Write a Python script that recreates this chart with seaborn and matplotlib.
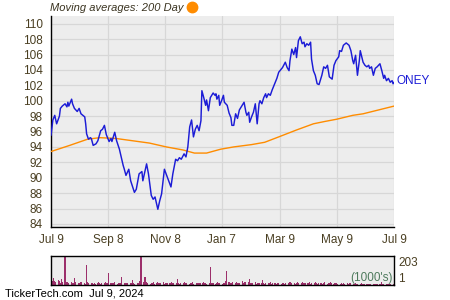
import numpy as np
import pandas as pd
import matplotlib
matplotlib.use("Agg")
import matplotlib.pyplot as plt
import seaborn as sns

# ---------------- data ----------------
start = "2023-07-09"
ticker = "ONEY"

price_days = [0, 2, 4, 6, 9, 10, 12, 15, 17, 18, 19, 22, 23, 25, 28, 30, 32, 36, 37, 38,
              40, 42, 43, 45, 48, 50, 53, 55, 57, 59, 62, 64, 65, 68, 70, 73,
              77, 78, 80, 83, 85, 89, 91, 94, 97, 98, 102, 104, 107, 109, 111, 114, 116, 118,
              121, 125, 128, 130, 133, 135, 137, 139, 142,
              144, 146, 148, 150, 152, 154, 156, 158, 160, 161, 163, 165, 166, 168, 170, 173,
              175, 176, 177, 179, 180, 182, 184, 185, 188, 190, 192, 193, 195, 197, 199, 201,
              203, 206, 208, 209, 211, 212,
              214, 216, 218, 220, 222, 223, 225, 227, 229, 230, 232, 234, 236, 238, 239, 241,
              243, 247, 250, 252, 254, 255, 257, 259, 261, 262, 264, 266, 268, 270, 271, 273,
              275, 277, 278, 280, 282, 284, 286,
              289, 291, 293, 295, 297, 300, 302, 304, 307, 308, 310, 312, 314, 315, 318, 320,
              322, 323, 325, 327, 329, 330, 333, 335, 337, 339, 340, 342, 344, 346, 348, 351,
              353, 355, 356, 358, 360, 362, 364, 365, 366]
price_vals = [95.5, 97.5, 98.1, 97.0, 98.0, 99.0, 99.3, 99.6, 99.2, 99.8, 99.3, 100.2, 99.6, 99.0,
              98.6, 99.0, 98.3, 97.9, 97.0, 95.7, 95.0, 95.2, 95.1, 94.2, 94.4, 94.8, 96.1, 96.3,
              96.8, 95.6, 94.7, 95.1, 94.7, 95.9, 94.8, 93.7,
              91.6, 91.2, 90.3, 91.1, 89.6, 88.1, 88.5, 90.5, 90.8, 89.6, 91.8, 90.5, 87.7, 87.2,
              87.5, 85.9, 87.0, 87.9, 91.1, 89.8, 88.8, 90.5, 92.4, 92.2, 92.6, 92.4, 93.1,
              92.7, 94.0, 96.6, 97.5, 95.3, 96.3, 96.8, 96.1, 97.4, 101.3, 100.4, 99.4, 100.1,
              98.7, 100.4, 101.0, 100.7, 100.9, 100.2, 100.7, 99.4, 100.0, 100.7, 99.8, 99.4,
              98.4, 97.8, 96.8, 96.8, 98.3, 97.7, 98.8, 99.2, 99.8, 98.5, 98.1, 98.5, 97.2,
              97.9, 98.5, 99.6, 97.0, 99.6, 100.0, 99.6, 100.4, 100.9, 100.4, 100.9, 100.7, 101.4,
              102.0, 102.3, 102.9, 103.7, 104.3, 105.0, 104.3, 103.9, 105.2, 106.7, 106.0, 106.9,
              105.6, 107.8, 108.3, 107.4, 107.6, 107.0, 107.4, 107.2, 107.6, 105.4, 103.9, 103.3,
              102.2, 102.1,
              103.3, 104.4, 104.2, 104.6, 103.1, 102.8, 104.6, 105.2, 105.7, 106.5, 106.4, 107.2,
              107.4, 107.5, 107.2, 106.5, 105.2, 104.8, 105.9, 103.3, 105.2, 106.5, 105.0, 104.6,
              104.4, 104.6, 104.2, 104.4, 103.3, 104.2, 104.4, 104.8, 103.9, 102.9, 103.3, 102.6,
              102.9, 102.4, 102.6, 102.2, 102.4]

ma_days = [0, 20, 39, 52, 69, 87, 105, 123, 141, 153, 166, 181, 195, 214, 228, 243, 262,
           280, 292, 305, 322, 333, 366]
ma_vals = [93.4, 94.2, 95.0, 95.2, 95.1, 94.8, 94.5, 94.0, 93.6, 93.2, 93.2, 93.7, 94.0,
           94.3, 94.6, 95.3, 96.2, 97.0, 97.3, 97.6, 98.1, 98.3, 99.3]

# daily volume (1000's), one value per business day from 2023-07-10
vol_vals = [22, 30, 47, 28, 20, 34, 25, 16, 42, 24,
            203, 19, 15, 22, 13, 18, 12, 16, 52, 20,
            15, 10, 13, 18, 11, 15, 10, 137, 19, 13,
            11, 16, 10, 15, 8, 13, 18, 11, 10, 15,
            13, 19, 11, 16, 85, 15, 10, 13, 11, 18,
            10, 15, 13, 11, 58, 16, 10, 13, 8, 15,
            11, 16, 35, 13, 10, 15, 11, 19, 28, 203,
            22, 58, 55, 19, 13, 10, 15, 11, 18, 10,
            13, 22, 16, 11, 15, 19, 10, 13, 16, 11,
            15, 10, 18, 13, 11, 16, 42, 15, 10, 13,
            11, 18, 10, 15, 13, 8, 16, 11, 19, 10,
            13, 15, 11, 10, 16, 13, 22, 11, 15, 10,
            13, 125, 16, 11, 15, 10, 13, 18, 11, 15,
            10, 16, 13, 30, 95, 19, 13, 16, 11, 24,
            15, 19, 11, 16, 13, 30, 15, 10, 18, 13,
            22, 42, 16, 11, 15, 19, 10, 13, 16, 11,
            15, 35, 13, 10, 16, 11, 15, 19, 10, 13,
            11, 16, 10, 15, 13, 8, 11, 16, 10, 13,
            15, 10, 19, 11, 13, 16, 10, 15, 22, 11,
            13, 18, 10, 15, 11, 16, 13, 21, 10, 15,
            11, 19, 13, 10, 16, 11, 15, 10, 13, 18,
            10, 15, 11, 24, 13, 10, 16, 11, 15, 10,
            8, 13, 10, 11, 8, 15, 10, 7, 11, 8,
            10, 7, 13, 8, 10, 7, 11, 8, 5, 10,
            7, 8, 5, 10, 7, 5, 8, 7, 5, 7,
            5, 7, 20, 5, 7, 5, 8, 5, 7, 5,
            7, 5]

xtick_dates = ["2023-07-09", "2023-09-08", "2023-11-08", "2024-01-07",
               "2024-03-09", "2024-05-09", "2024-07-09"]
xtick_labels = ["Jul 9", "Sep 8", "Nov 8", "Jan 7", "Mar 9", "May 9", "Jul 9"]
xminor_dates = ["2023-08-08", "2023-10-08", "2023-12-08", "2024-02-07",
                "2024-04-09", "2024-06-09"]
yticks = list(range(84, 111, 2))
yminor = list(range(84, 111, 1))
vol_labels = ["203", "1"]

# ---------------- figure ----------------
sns.set_style("white")
plt.rcParams["font.family"] = ["Liberation Sans", "DejaVu Sans"]

W, H = 450, 300
fig = plt.figure(figsize=(W / 100, H / 100), dpi=100)
ax = fig.add_axes([51 / W, 73 / H, 343 / W, 211 / H])
vax = fig.add_axes([51 / W, 15 / H, 343 / W, 29 / H])

t0 = pd.Timestamp(start)
def to_day(s):
    return (pd.Timestamp(s) - t0).days

bg = "#EDEDED"
grid_c = "#D7D7D7"
lab_c = "#4A3F22"

ax.set_facecolor(bg)
price_df = pd.DataFrame({"day": price_days, "price": price_vals})
ma_df = pd.DataFrame({"day": ma_days, "ma": ma_vals})
sns.lineplot(data=ma_df, x="day", y="ma", ax=ax, color="#FF8C00", lw=1.0, zorder=3)
sns.lineplot(data=price_df, x="day", y="price", ax=ax, color="#1C1CD6", lw=1.05, zorder=4)

ax.set_xlim(0, 366)
ax.set_ylim(83.6, 111.0)
ax.set_xticks([to_day(d) for d in xtick_dates])
ax.set_xticklabels(xtick_labels)
ax.set_xticks([to_day(d) for d in xminor_dates], minor=True)
ax.set_yticks(yticks)
ax.set_yticks(yminor, minor=True)
ax.grid(True, which="major", color=grid_c, lw=0.9)
ax.set_axisbelow(True)
ax.tick_params(axis="both", which="both", direction="in", colors="black",
               labelcolor=lab_c, labelsize=8.5, width=0.8)
ax.tick_params(axis="y", which="major", length=3, pad=6)
ax.tick_params(axis="y", which="minor", length=3)
ax.tick_params(axis="x", which="major", length=5, pad=5)
ax.tick_params(axis="x", which="minor", length=3)
ax.set_xlabel("")
ax.set_ylabel("")
for s in ["top", "right"]:
    ax.spines[s].set_visible(False)
for s in ["left", "bottom"]:
    ax.spines[s].set_color("black")
    ax.spines[s].set_linewidth(1.0)

ax.text(1.008, (102.5 - 83.6) / (111.0 - 83.6), ticker, transform=ax.transAxes,
        color="#1C1CD6", fontsize=8.5, va="center", ha="left")

fig.text(50 / W, 1 - 8 / H, "Moving averages: 200 Day", fontsize=8, style="italic",
         color="#3A3320", ha="left", va="center")
ax.plot([192 / W], [1 - 7 / H], transform=fig.transFigure, marker="o", ms=7.5,
        color="#FF8C00", clip_on=False, ls="none")

# volume panel
vol_dates = pd.bdate_range("2023-07-10", "2024-07-09")
vol_days = [(d - t0).days for d in vol_dates][:len(vol_vals)]
vax.set_facecolor(bg)
vax.bar(vol_days, vol_vals, width=1.2, color="#9C2F6B", linewidth=0)
vax.set_xlim(0, 366)
vax.set_ylim(0, 203)
vax.set_xticks([])
vax.set_yticks([])
for s in vax.spines.values():
    s.set_visible(True)
    s.set_color("black")
    s.set_linewidth(1.0)
vax.text(1.012, 0.97, vol_labels[0], transform=vax.transAxes, fontsize=8.5,
         color=lab_c, va="top", ha="left")
vax.text(1.012, 0.0, vol_labels[1], transform=vax.transAxes, fontsize=8.5,
         color=lab_c, va="bottom", ha="left")
vax.text(0.995, 0.03, "(1000's)", transform=vax.transAxes, fontsize=8.5,
         color="#4D7A5C", va="bottom", ha="right")

fig.text(5 / W, 1 - 294 / H, "TickerTech.com  Jul 9, 2024", fontsize=8,
         color="black", ha="left", va="center")

fig.savefig("out.png", dpi=100)
